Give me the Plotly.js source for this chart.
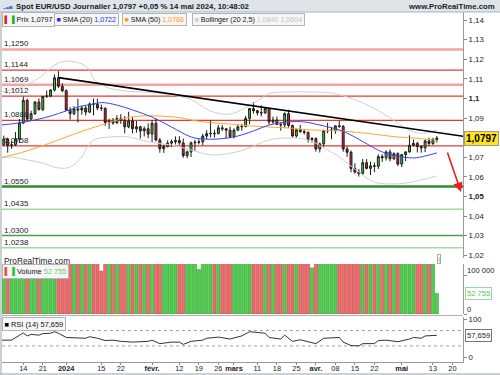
<!DOCTYPE html>
<html><head><meta charset="utf-8">
<script src="https://cdn.plot.ly/plotly-3.0.1.min.js"></script>
<style>html,body{margin:0;padding:0;background:#fff}#chart{width:500px;height:375px}</style>
</head><body><div id="chart"></div>
<script>
// ---------- DATA ----------
const holidays = ['2023-12-25', '2024-01-01'];
const firstDay = '2023-12-07', lastDay = '2024-05-14';

const open = [1.0764,1.0793,1.0760,1.0763,1.0793,1.0875,1.0990,1.0895,1.0922,1.0981,
1.0943,1.1010,1.1012,1.1043,1.1105,1.1062,1.1039,1.0940,1.0922,1.0946,
1.0941,1.0951,1.0930,1.0972,1.0970,1.0951,1.0949,1.0877,1.0884,1.0875,
1.0897,1.0888,1.0855,1.0885,1.0845,1.0855,1.0834,1.0845,1.0818,1.0873,
1.0788,1.0743,1.0755,1.0772,1.0779,1.0785,1.0773,1.0708,1.0727,1.0773,
1.0776,1.0778,1.0808,1.0820,1.0822,1.0820,1.0850,1.0845,1.0838,1.0805,
1.0838,1.0855,1.0857,1.0898,1.0948,1.0937,1.0927,1.0926,1.0948,1.0880,
1.0889,1.0867,1.0865,1.0922,1.0862,1.0808,1.0840,1.0830,1.0827,1.0790,
1.0795,1.0742,1.0768,1.0835,1.0836,1.0838,1.0860,1.0857,1.0742,1.0725,
1.0642,1.0624,1.0617,1.0672,1.0643,1.0656,1.0654,1.0703,1.0697,1.0727,
1.0692,1.0718,1.0665,1.0713,1.0727,1.0761,1.0770,1.0754,1.0748,1.0783,
1.0770,1.0790];
const high = [1.0810,1.0800,1.0782,1.0828,1.0895,1.1009,1.0998,1.0937,1.0987,1.1000,
1.1012,1.1040,1.1046,1.1122,1.1139,1.1077,1.1046,1.0956,1.0961,1.0998,
1.0962,1.0961,1.0979,1.0999,1.0998,1.0968,1.0955,1.0896,1.0900,1.0914,
1.0920,1.0910,1.0932,1.0905,1.0885,1.0860,1.0857,1.0873,1.0889,1.0898,
1.0798,1.0764,1.0786,1.0791,1.0806,1.0807,1.0795,1.0735,1.0780,1.0789,
1.0792,1.0819,1.0838,1.0888,1.0840,1.0865,1.0864,1.0847,1.0856,1.0847,
1.0867,1.0870,1.0911,1.0951,1.0981,1.0942,1.0964,1.0955,1.0950,1.0907,
1.0907,1.0878,1.0928,1.0942,1.0866,1.0843,1.0865,1.0843,1.0830,1.0803,
1.0801,1.0775,1.0840,1.0876,1.0852,1.0861,1.0885,1.0864,1.0756,1.0734,
1.0669,1.0639,1.0691,1.0690,1.0677,1.0673,1.0714,1.0715,1.0735,1.0739,
1.0725,1.0725,1.0717,1.0730,1.0812,1.0790,1.0779,1.0762,1.0790,1.0799,
1.0799,1.0808];
const low = [1.0757,1.0723,1.0743,1.0757,1.0772,1.0868,1.0885,1.0888,1.0915,1.0938,
1.0935,1.1002,1.1006,1.1036,1.1053,1.1032,1.0938,1.0892,1.0915,1.0877,
1.0917,1.0912,1.0924,1.0913,1.0940,1.0935,1.0860,1.0844,1.0865,1.0870,
1.0870,1.0822,1.0848,1.0822,1.0825,1.0795,1.0806,1.0797,1.0778,1.0781,
1.0723,1.0722,1.0750,1.0752,1.0765,1.0763,1.0697,1.0695,1.0701,1.0732,
1.0765,1.0761,1.0793,1.0802,1.0800,1.0818,1.0833,1.0796,1.0796,1.0796,
1.0833,1.0835,1.0852,1.0868,1.0922,1.0913,1.0908,1.0921,1.0867,1.0870,
1.0864,1.0835,1.0850,1.0851,1.0801,1.0800,1.0825,1.0815,1.0775,1.0774,
1.0728,1.0724,1.0754,1.0822,1.0792,1.0820,1.0850,1.0728,1.0702,1.0623,
1.0616,1.0601,1.0611,1.0638,1.0609,1.0624,1.0640,1.0676,1.0683,1.0678,
1.0685,1.0655,1.0650,1.0680,1.0723,1.0755,1.0724,1.0723,1.0726,1.0757,
1.0762,1.0775];
const close = [1.0793,1.0760,1.0763,1.0793,1.0875,1.0990,1.0895,1.0922,1.0981,1.0943,
1.1010,1.1012,1.1043,1.1105,1.1062,1.1039,1.0940,1.0922,1.0946,1.0941,
1.0951,1.0930,1.0972,1.0970,1.0951,1.0949,1.0877,1.0884,1.0875,1.0897,
1.0888,1.0855,1.0885,1.0845,1.0855,1.0834,1.0845,1.0818,1.0873,1.0788,
1.0743,1.0755,1.0772,1.0779,1.0785,1.0773,1.0708,1.0727,1.0773,1.0776,
1.0778,1.0808,1.0820,1.0822,1.0820,1.0850,1.0845,1.0838,1.0805,1.0838,
1.0855,1.0857,1.0898,1.0948,1.0937,1.0927,1.0926,1.0948,1.0880,1.0889,
1.0867,1.0865,1.0922,1.0862,1.0808,1.0840,1.0830,1.0827,1.0790,1.0795,
1.0742,1.0768,1.0835,1.0836,1.0838,1.0860,1.0857,1.0742,1.0725,1.0642,
1.0624,1.0617,1.0672,1.0643,1.0656,1.0654,1.0703,1.0697,1.0727,1.0692,
1.0718,1.0665,1.0713,1.0727,1.0761,1.0770,1.0754,1.0748,1.0783,1.0770,
1.0790,1.0797];
const volume = [150000,150000,150000,150000,150000,150000,150000,150000,150000,150000,
150000,150000,140000,150000,150000,150000,150000,150000,150000,150000,
150000,150000,150000,150000,150000,110000,150000,150000,150000,150000,
150000,150000,150000,150000,150000,150000,150000,150000,150000,150000,
150000,150000,150000,150000,150000,150000,150000,150000,150000,150000,
114000,150000,150000,150000,150000,150000,150000,150000,150000,150000,
150000,150000,150000,150000,150000,150000,150000,150000,150000,150000,
150000,150000,150000,150000,150000,150000,150000,150000,150000,118000,
150000,150000,150000,150000,150000,150000,150000,150000,150000,150000,
150000,150000,150000,150000,150000,150000,150000,150000,150000,150000,
150000,150000,150000,150000,150000,150000,150000,150000,150000,150000,
150000,52755];

const sma20Dates = ['2023-12-06','2023-12-13','2023-12-19','2023-12-26','2024-01-02','2024-01-08','2024-01-11','2024-01-15','2024-01-19','2024-01-25','2024-02-01','2024-02-08','2024-02-15','2024-02-20','2024-02-26','2024-03-04','2024-03-08','2024-03-14','2024-03-21','2024-03-27','2024-04-02','2024-04-09','2024-04-12','2024-04-17','2024-04-24','2024-04-30','2024-05-06','2024-05-09','2024-05-14'];
const sma20 = [1.0864,1.0875,1.0890,1.0910,1.0936,1.0961,1.0971,1.0979,1.0966,1.0941,1.0905,1.0854,1.0803,1.0793,1.0793,1.0808,1.0834,1.0864,1.0880,1.0880,1.0864,1.0839,1.0813,1.0780,1.0727,1.0706,1.0696,1.0706,1.0722];

const sma50Dates = ['2023-12-06','2023-12-13','2023-12-20','2023-12-28','2024-01-08','2024-01-15','2024-01-22','2024-01-29','2024-02-05','2024-02-12','2024-02-15','2024-02-22','2024-02-29','2024-03-07','2024-03-14','2024-03-21','2024-03-28','2024-04-09','2024-04-17','2024-04-30','2024-05-06','2024-05-14'];
const sma50 = [1.0696,1.0721,1.0752,1.0788,1.0832,1.0864,1.0895,1.0910,1.0910,1.0902,1.0890,1.0876,1.0869,1.0860,1.0854,1.0849,1.0840,1.0834,1.0824,1.0803,1.0798,1.0786];

const bbUpperDates = ['2023-12-06','2023-12-13','2023-12-20','2023-12-27','2024-01-02','2024-01-08','2024-01-10','2024-01-11','2024-01-16','2024-01-22','2024-01-29','2024-02-02','2024-02-08','2024-02-15','2024-02-22','2024-02-29','2024-03-07','2024-03-12','2024-03-14','2024-03-21','2024-03-28','2024-04-05','2024-04-11','2024-04-17','2024-04-24','2024-04-30','2024-05-06','2024-05-09','2024-05-14'];
const bbUpper = [1.1033,1.1053,1.1104,1.1170,1.1190,1.1176,1.1145,1.1100,1.1060,1.1040,1.1033,1.1028,1.1017,1.0995,1.0935,1.0920,1.0965,1.1000,1.1025,1.1033,1.1033,1.1028,1.1007,1.0977,1.0926,1.0874,1.0829,1.0823,1.0840];

const bbLowerDates = ['2023-12-06','2023-12-11','2023-12-15','2023-12-21','2023-12-28','2024-01-03','2024-01-08','2024-01-09','2024-01-11','2024-01-17','2024-01-24','2024-01-29','2024-02-02','2024-02-08','2024-02-15','2024-02-22','2024-02-29','2024-03-06','2024-03-14','2024-03-21','2024-03-28','2024-04-04','2024-04-09','2024-04-16','2024-04-22','2024-04-26','2024-05-02','2024-05-08','2024-05-14'];
const bbLower = [1.0696,1.0701,1.0686,1.0670,1.0645,1.0650,1.0701,1.0737,1.0788,1.0803,1.0803,1.0788,1.0772,1.0762,1.0737,1.0712,1.0720,1.0740,1.0788,1.0798,1.0788,1.0737,1.0701,1.0624,1.0573,1.0563,1.0568,1.0584,1.0604];

const rsiDates = ['2023-12-06','2023-12-11','2023-12-14','2023-12-15','2023-12-18','2023-12-20','2023-12-21','2023-12-26','2023-12-27','2023-12-28','2024-01-02','2024-01-05','2024-01-09','2024-01-10','2024-01-12','2024-01-16','2024-01-18','2024-01-22','2024-01-25','2024-01-31','2024-02-01','2024-02-05','2024-02-08','2024-02-12','2024-02-13','2024-02-15','2024-02-20','2024-02-21','2024-02-26','2024-02-29','2024-03-04','2024-03-05','2024-03-07','2024-03-12','2024-03-13','2024-03-14','2024-03-19','2024-03-20','2024-03-22','2024-03-26','2024-03-28','2024-04-01','2024-04-03','2024-04-09','2024-04-10','2024-04-12','2024-04-16','2024-04-17','2024-04-22','2024-04-23','2024-04-25','2024-04-30','2024-05-03','2024-05-06','2024-05-08','2024-05-09','2024-05-14'];
const rsi = [45,45,64,56,60,58,62,63,67,63,52,50,50,54,50,44,45,42,40,42,45,36,40,40,34,42,45,50,53,48,54,56,67,64,63,52,48,58,42,46,40,36,50,52,40,31,30,36,36,44,45,41,48,52,50,56,57.659];

const levelValues = [1.1250,1.1144,1.1069,1.1012,1.0888,1.0758,1.0550,1.0435,1.0300,1.0238];
const levelLabels = ['1,1250','1,1144','1,1069','1,1012','1,0888','1,0758','1,0550','1,0435','1,0300','1,0238'];

const trendDates = ['2023-12-28','2024-05-24'];
const trendValues = [1.1106,1.0803];
const arrowFrom = ['2024-05-16 14:00', 1.0732];
const arrowTo = ['2024-05-22 05:00', 1.0522];

const priceTicks = [1.14,1.13,1.12,1.11,1.10,1.09,1.08,1.07,1.06,1.05,1.04,1.03,1.02];
const priceTickText = ['1,14','1,13','1,12','1,11','<b>1,1</b>','1,09','','1,07','1,06','<b>1,05</b>','1,04','1,03','1,02'];
const volumeTicks = [0, 100000];
const volumeTickText = ['0', '100 000'];
const xTickDates = ['2023-12-14','2023-12-21','2024-01-02','2024-01-15','2024-01-22','2024-02-01','2024-02-12','2024-02-19','2024-02-26','2024-03-01','2024-03-11','2024-03-18','2024-03-25','2024-04-01','2024-04-08','2024-04-15','2024-04-22','2024-05-01','2024-05-13','2024-05-20'];
const xTickText = ['14','21','<b>2024</b>','15','22','<b>févr.</b>','12','19','26','<b>mars</b>','11','18','25','<b>avr.</b>','08','15','22','<b>mai</b>','13','20'];

const lastPrice = 1.0797, lastVolume = 52755, lastRsi = 57.659;

// ---------- BUILD ----------
const dates = [];
(function(){
  let d = new Date(firstDay + 'T00:00:00Z'); const end = new Date(lastDay + 'T00:00:00Z');
  while (d <= end) {
    const s = d.toISOString().slice(0,10), wd = d.getUTCDay();
    if (wd !== 0 && wd !== 6 && holidays.indexOf(s) < 0) dates.push(s);
    d = new Date(d.getTime() + 86400000);
  }
})();

const FONT = 'Liberation Sans, Arial, sans-serif';
const P = px => (px - 2) / 461;      // paper x from pixel
const Q = py => (362 - py) / 350;    // paper y from pixel
const fmt = v => v.toFixed(4).replace('.', ',');

const levelStyle = [
  {c:'#f4a3a3', w:2.5},{c:'#e53935', w:1.2},{c:'#f4a3a3', w:2.5},{c:'#e53935', w:1.2},
  {c:'#e53935', w:1.2},{c:'#e53935', w:1.2},{c:'#2e8b2e', w:2.5},{c:'#a6d7a6', w:1.5},
  {c:'#4a9f4a', w:1.5},{c:'#a6d7a6', w:1.5}];

const volColors = close.map((c,i) => c >= open[i] ? '#4fd04f' : '#ec7070');
const volLine = close.map((c,i) => c >= open[i] ? '#2c9c2c' : '#c43a3a');

const traces = [
  {type:'scatter', mode:'lines', x:bbUpperDates, y:bbUpper, line:{color:'#cfcfcf', width:1, shape:'spline'}, hoverinfo:'skip'},
  {type:'scatter', mode:'lines', x:bbLowerDates, y:bbLower, line:{color:'#cfcfcf', width:1, shape:'spline'}, hoverinfo:'skip'},
  {type:'scatter', mode:'lines', x:sma50Dates, y:sma50, line:{color:'#ffa531', width:1, shape:'spline'}, hoverinfo:'skip'},
  {type:'scatter', mode:'lines', x:sma20Dates, y:sma20, line:{color:'#3345f5', width:1, shape:'spline'}, hoverinfo:'skip'},
  {type:'candlestick', x:dates, open:open, high:high, low:low, close:close, whiskerwidth:0,
   increasing:{line:{color:'#1c1c1c', width:1}, fillcolor:'#33d433'},
   decreasing:{line:{color:'#1c1c1c', width:1}, fillcolor:'#ea2020'}, hoverinfo:'skip'},
  {type:'scatter', mode:'lines', x:trendDates, y:trendValues, line:{color:'#000', width:1.6}, hoverinfo:'skip'},
  {type:'bar', x:dates, y:volume, yaxis:'y2', marker:{color:volColors, line:{color:volLine, width:0.6}}, hoverinfo:'skip'},
  {type:'scatter', mode:'lines', x:rsiDates, y:rsi, yaxis:'y3', line:{color:'#333', width:1}, hoverinfo:'skip'}
];

const shapes = [];
levelValues.forEach((v,i) => shapes.push({type:'line', xref:'paper', yref:'y', x0:0, x1:1, y0:v, y1:v, layer:'below',
  line:{color:levelStyle[i].c, width:levelStyle[i].w}}));
[30,70].forEach(v => shapes.push({type:'line', xref:'paper', yref:'y3', x0:0, x1:1, y0:v, y1:v, layer:'below',
  line:{color:'#a0a0a0', width:1, dash:'3px,3px'}}));
shapes.push({type:'rect', xref:'paper', yref:'paper', x0:P(0), x1:P(500), y0:Q(12), y1:Q(0), fillcolor:'#dde5eb', line:{width:0}});
shapes.push({type:'line', xref:'paper', yref:'paper', x0:P(0), x1:P(500), y0:Q(12), y1:Q(12), line:{color:'#a9b4bd', width:1}});
shapes.push({type:'line', xref:'paper', yref:'paper', x0:0, x1:1, y0:Q(315.5), y1:Q(315.5), line:{color:'#b0b0b0', width:1}});
shapes.push({type:'line', xref:'paper', yref:'paper', x0:P(1), x1:P(1), y0:Q(375), y1:Q(12), line:{color:'#b8c0c6', width:1.5}});
shapes.push({type:'line', xref:'paper', yref:'paper', x0:P(0), x1:P(500), y0:Q(374), y1:Q(374), line:{color:'#b8c0c6', width:1.5}});

const annotations = [];
levelValues.forEach((v,i) => annotations.push({xref:'paper', yref:'y', x:P(3), y:v, xanchor:'left', yanchor:'bottom',
  text:levelLabels[i], showarrow:false, font:{family:FONT, size:8, color:'#222'}, borderpad:0}));

annotations.push({xref:'x', yref:'y', axref:'x', ayref:'y', x:arrowTo[0], y:arrowTo[1], ax:arrowFrom[0], ay:arrowFrom[1],
  showarrow:true, arrowhead:2, arrowsize:1.2, arrowwidth:1.6, arrowcolor:'#ee1c1c', text:''});

annotations.push({xref:'paper', yref:'paper', x:P(14), y:Q(6.5), xanchor:'left', yanchor:'middle', showarrow:false,
  text:'<b>Spot EUR/USD Journalier 1,0797 +0,05 % 14 mai 2024, 10:48:02</b>', font:{family:FONT, size:7.8, color:'#1a1a1a'}});
annotations.push({xref:'paper', yref:'paper', x:P(1), y:Q(6.5), xanchor:'left', yanchor:'middle', showarrow:false,
  text:'<span style="color:#3b7fd6">▁▃▅</span>', font:{family:'DejaVu Sans', size:4}, borderpad:0});
annotations.push({xref:'paper', yref:'paper', x:P(497), y:Q(6.5), xanchor:'right', yanchor:'middle', showarrow:false,
  text:'<b>www.ProRealTime.com</b>', font:{family:FONT, size:7.8, color:'#222'}});

const leg = (px, txt) => annotations.push({xref:'paper', yref:'paper', x:P(px), y:Q(19.5), xanchor:'left', yanchor:'middle',
  showarrow:false, text:txt, font:{family:FONT, size:7.1, color:'#111'}, bgcolor:'#f6f6f6', bordercolor:'#b4b4b4', borderwidth:1, borderpad:1.5});
leg(2, '<span style="color:#e02020">▌</span><span style="color:#22aa22">▐</span> Prix ' + fmt(lastPrice));
leg(54, '<span style="color:#1f2ff0">■</span> SMA (20) <span style="color:#2030f0">' + fmt(sma20[sma20.length-1]) + '</span>');
leg(122, '<span style="color:#ff9a1a">■</span> SMA (50) <span style="color:#ff9a1a">' + fmt(sma50[sma50.length-1]) + '</span>');
leg(192, '<span style="color:#d0d0d0">■</span> Bollinger (20 2,5) <span style="color:#c4c4c4">' + fmt(bbUpper[bbUpper.length-1]) + ' ' + fmt(bbLower[bbLower.length-1]) + '</span>');

annotations.push({xref:'paper', yref:'y', x:1, y:lastPrice, xanchor:'left', yanchor:'middle', xshift:1, showarrow:false,
  text:'<b>' + fmt(lastPrice) + '</b>', font:{family:FONT, size:10, color:'#000'},
  bgcolor:'#ffe41c', bordercolor:'#9a9a9a', borderwidth:1, borderpad:1});
annotations.push({xref:'paper', yref:'paper', x:P(2), y:Q(261), xanchor:'left', yanchor:'middle', showarrow:false,
  text:'ProRealTime.com', font:{family:FONT, size:8.3, color:'#222'}});
annotations.push({xref:'paper', yref:'paper', x:P(2), y:Q(271.5), xanchor:'left', yanchor:'middle', showarrow:false,
  text:'<span style="color:#e05050">▌</span><span style="color:#33bb33">▐</span> Volume <span style="color:#66cc66">52 755</span>',
  font:{family:FONT, size:7.4, color:'#111'}, bgcolor:'#f6f6f6', bordercolor:'#b4b4b4', borderwidth:1, borderpad:1.5});
annotations.push({xref:'paper', yref:'y2', x:1, y:lastVolume, xanchor:'left', yanchor:'middle', xshift:2, showarrow:false,
  text:'52 755', font:{family:FONT, size:7.6, color:'#55c455'}, bgcolor:'#fff', bordercolor:'#9ad89a', borderwidth:1, borderpad:1});
// volume axis labels placed as annotations so they sit where the reference shows them
volumeTicks.forEach((v,i) => annotations.push({xref:'paper', yref:'y2', x:1, y:v, xanchor:'left', yanchor:'bottom', xshift:3, yshift:-1,
  showarrow:false, text:volumeTickText[i], font:axFont0(), borderpad:0}));
function axFont0(){ return {family:FONT, size:7.6, color:'#222'}; }
annotations.push({xref:'paper', yref:'paper', x:P(437), y:Q(258.5), xanchor:'left', yanchor:'middle', showarrow:false,
  text:'i', font:{family:FONT, size:6.5, color:'#888'}, bgcolor:'#fff', bordercolor:'#aaa', borderwidth:1, borderpad:0.5});
annotations.push({xref:'paper', yref:'paper', x:P(2), y:Q(324), xanchor:'left', yanchor:'middle', showarrow:false,
  text:'<span style="color:#000">■</span> RSI (14) 57,659', font:{family:FONT, size:7.4, color:'#111'},
  bgcolor:'#f6f6f6', bordercolor:'#b4b4b4', borderwidth:1, borderpad:1.5});
annotations.push({xref:'paper', yref:'y3', x:1, y:lastRsi, xanchor:'left', yanchor:'middle', xshift:2, showarrow:false,
  text:'57,659', font:{family:FONT, size:7.6, color:'#222'}, bgcolor:'#fff', bordercolor:'#777', borderwidth:1, borderpad:1});

const axFont = {family:FONT, size:7.8, color:'#222'};
const layout = {
  width:500, height:375, margin:{l:2, r:37, t:12, b:13}, paper_bgcolor:'#fff', plot_bgcolor:'#fff',
  showlegend:false, bargap:0.22, hovermode:false,
  font:{family:FONT, size:8, color:'#222'},
  xaxis:{type:'date', anchor:'y3', range:['2023-12-06 13:00','2024-05-22 17:00'],
    rangebreaks:[{bounds:['sat','mon']},{values:holidays}],
    tickvals:xTickDates, ticktext:xTickText, ticks:'outside', ticklen:2, tickcolor:'#888',
    tickfont:{family:FONT, size:7.4, color:'#222'}, ticklabelstandoff:-3, automargin:false,
    showgrid:false, zeroline:false, showline:true, linecolor:'#9a9a9a', linewidth:1, rangeslider:{visible:false}, fixedrange:true},
  yaxis:{domain:[Q(258), 1], range:[1.01857, 1.14408], side:'right', tickvals:priceTicks, ticktext:priceTickText,
    ticks:'outside', ticklen:3, tickcolor:'#888', tickfont:axFont, showgrid:false, zeroline:false, automargin:false,
    showline:true, linecolor:'#9a9a9a', linewidth:1, fixedrange:true},
  yaxis2:{domain:[Q(314), Q(264)], range:[0, 128200], side:'right', anchor:'x', tickvals:volumeTicks, showticklabels:false,
    ticks:'outside', ticklen:3, tickcolor:'#888', showgrid:false, zeroline:false, automargin:false,
    showline:true, linecolor:'#9a9a9a', linewidth:1, fixedrange:true},
  yaxis3:{domain:[0, Q(317)], range:[-11.7, 105.2], side:'right', anchor:'x', tickvals:[0,100], ticktext:['0','100'],
    ticks:'outside', ticklen:3, tickcolor:'#888', tickfont:axFont, showgrid:false, zeroline:false, automargin:false,
    showline:true, linecolor:'#9a9a9a', linewidth:1, fixedrange:true},
  shapes:shapes, annotations:annotations
};
Plotly.newPlot('chart', traces, layout, {staticPlot:true, displayModeBar:false});
</script></body></html>
